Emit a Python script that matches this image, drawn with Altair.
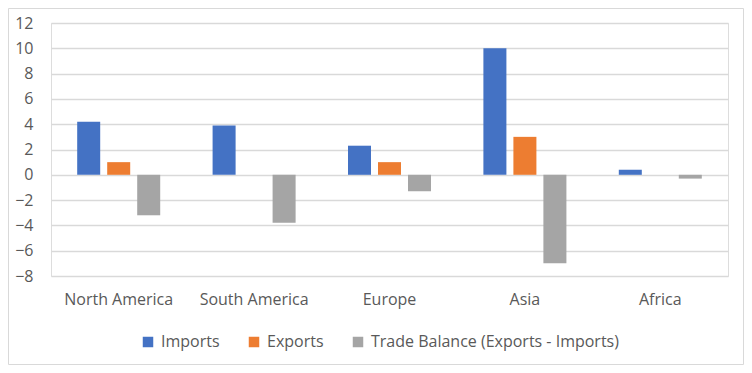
import altair as alt
import pandas as pd

regions = ["North America", "South America", "Europe", "Asia", "Africa"]
series = ["Imports", "Exports", "Trade Balance (Exports - Imports)"]
imports = [4.2, 3.9, 2.3, 10.0, 0.4]
exports = [1.0, 0.0, 1.0, 3.0, 0.0]
balance = [-3.2, -3.8, -1.3, -7.0, -0.3]
colors = ["#4472C4", "#ED7D31", "#A5A5A5"]
y_ticks = list(range(-8, 13, 2))

rows = []
for i, r in enumerate(regions):
    for s, vals in zip(series, [imports, exports, balance]):
        rows.append({"region": r, "series": s, "value": vals[i]})
df = pd.DataFrame(rows)

FONT = "Open Sans"
TXT = "#595959"

bars = alt.Chart(df).mark_bar().encode(
    x=alt.X("region:N", sort=regions, title=None,
            scale=alt.Scale(paddingInner=0, paddingOuter=0),
            axis=alt.Axis(labelAngle=0, domain=False, ticks=False, labelPadding=15,
                          labelFont=FONT, labelFontSize=16, labelColor=TXT, grid=False)),
    xOffset=alt.XOffset("series:N", sort=series,
                        scale=alt.Scale(paddingInner=0.233, paddingOuter=0.873)),
    y=alt.Y("value:Q", title=None,
            scale=alt.Scale(domain=[-8, 12], nice=False, zero=False),
            axis=alt.Axis(values=y_ticks, domain=False, ticks=False, labelPadding=18,
                          labelFont=FONT, labelFontSize=16, labelColor=TXT,
                          grid=True, gridColor="#D9D9D9", gridWidth=1.6)),
    color=alt.Color("series:N", sort=series,
                    scale=alt.Scale(domain=series, range=colors),
                    legend=alt.Legend(title=None, orient="none", direction="horizontal",
                                      legendX=89, legendY=311,
                                      symbolType="square", symbolSize=110,
                                      symbolStrokeWidth=0, labelFont=FONT,
                                      labelFontSize=16, labelColor=TXT, labelLimit=500,
                                      labelOffset=5, columnPadding=26)),
)

border = alt.Chart(alt.Data(values=[{}])).mark_rect(
    fillOpacity=0, stroke="#D9D9D9", strokeWidth=1, clip=False
).encode(
    x=alt.value(-42.5), x2=alt.value(692.5),
    y=alt.value(-14.5), y2=alt.value(341.5),
)

chart = alt.layer(bars, border).properties(
    width=677, height=253,
    autosize=alt.AutoSizeParams(type="none"),
    padding={"left": 43, "top": 15, "right": 16, "bottom": 89},
).configure_view(stroke=None).configure(background="white")

chart.save("out.html", embed_options={"renderer": "svg", "actions": False})
